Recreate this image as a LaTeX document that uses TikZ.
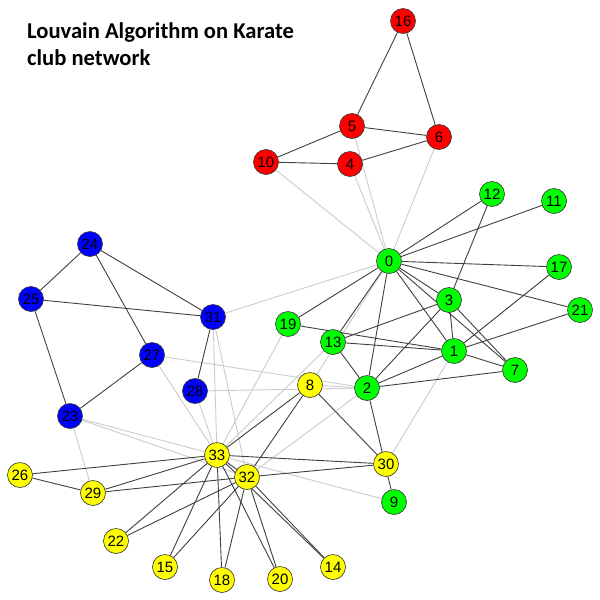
\documentclass[tikz,border=0pt]{standalone}
\usepackage{fontspec}
\setmainfont{Liberation Sans}
\newfontfamily\titlefont{Carlito}
\pgfdeclarelayer{edgelayer}
\pgfsetlayers{edgelayer,main}
\definecolor{rd}{RGB}{255,0,0}
\definecolor{gr}{RGB}{0,255,0}
\definecolor{bl}{RGB}{0,0,255}
\definecolor{yl}{RGB}{255,255,0}
\definecolor{intracol}{RGB}{64,64,64}
\definecolor{intercol}{RGB}{204,204,204}
\tikzset{
  vtx/.style={circle, draw=black!80, line width=0.6pt, minimum size=25pt, inner sep=0pt,
              font=\fontsize{15}{15}\selectfont, text=black},
  vr/.style={vtx, fill=rd},
  vg/.style={vtx, fill=gr},
  vb/.style={vtx, fill=bl},
  vy/.style={vtx, fill=yl},
  intraedge/.style={draw=intracol, line width=0.9pt},
  interedge/.style={draw=intercol, line width=0.9pt},
  titletext/.style={anchor=base west, inner sep=0pt, font=\titlefont\bfseries\fontsize{22.6}{26}\selectfont}
}
\begin{document}
\begin{tikzpicture}[x=1pt,y=-1pt]
\useasboundingbox (0,0) rectangle (600,600);
\node[titletext] (title1) at (27,38) {Louvain Algorithm on Karate};
\node[titletext] (title2) at (27,65) {club network};
% red
\node[vr] (n16) at (403,21) {16};
\node[vr] (n5) at (352,126) {5};
\node[vr] (n6) at (439,137) {6};
\node[vr] (n10) at (266,162) {10};
\node[vr] (n4) at (350,164) {4};
% green
\node[vg] (n12) at (492,194) {12};
\node[vg] (n11) at (554,201) {11};
\node[vg] (n0) at (389,261) {0};
\node[vg] (n17) at (559,267) {17};
\node[vg] (n3) at (449,300) {3};
\node[vg] (n21) at (580,310) {21};
\node[vg] (n19) at (288,324) {19};
\node[vg] (n13) at (333,342) {13};
\node[vg] (n1) at (454,351) {1};
\node[vg] (n7) at (515,370) {7};
\node[vg] (n2) at (367,388) {2};
\node[vg] (n9) at (394,502) {9};
% blue
\node[vb] (n24) at (90,244) {24};
\node[vb] (n25) at (31,299) {25};
\node[vb] (n31) at (213,317) {31};
\node[vb] (n27) at (152,355) {27};
\node[vb] (n28) at (195,391) {28};
\node[vb] (n23) at (70,416) {23};
% yellow
\node[vy] (n8) at (310,385) {8};
\node[vy] (n30) at (386,464) {30};
\node[vy] (n33) at (217,455) {33};
\node[vy] (n32) at (247,477) {32};
\node[vy] (n26) at (20,475) {26};
\node[vy] (n29) at (93,493) {29};
\node[vy] (n22) at (116,541) {22};
\node[vy] (n15) at (165,567) {15};
\node[vy] (n18) at (222,580) {18};
\node[vy] (n20) at (280,579) {20};
\node[vy] (n14) at (333,567) {14};
\begin{pgfonlayer}{edgelayer}
\fill[white] (0,0) rectangle (600,600);
\foreach \a/\b in {0/4,0/5,0/6,0/8,0/10,0/31,1/30,2/8,2/27,2/28,2/32,9/33,13/33,19/33,
  23/29,23/32,23/33,27/33,28/33,31/32,31/33}
  \draw[interedge] (n\a) -- (n\b);
\foreach \a/\b in {0/1,0/2,0/3,0/7,0/11,0/12,0/13,0/17,0/19,0/21,
  1/2,1/3,1/7,1/13,1/17,1/19,1/21,2/3,2/7,2/9,2/13,3/7,3/12,3/13,
  4/6,4/10,5/6,5/10,5/16,6/16,
  8/30,8/32,8/33,14/32,14/33,15/32,15/33,18/32,18/33,20/32,20/33,22/32,22/33,
  26/29,26/33,29/32,29/33,30/32,30/33,32/33,
  23/25,23/27,24/25,24/27,24/31,25/31,28/31}
  \draw[intraedge] (n\a) -- (n\b);
\end{pgfonlayer}
\end{tikzpicture}
\end{document}
